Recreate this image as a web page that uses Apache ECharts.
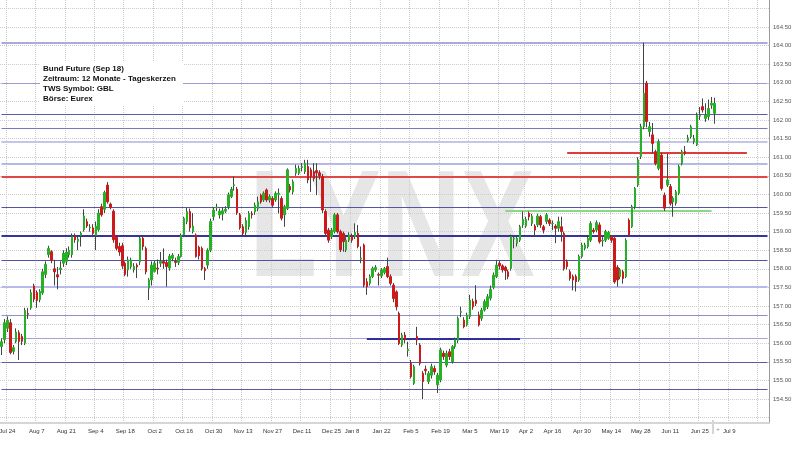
<!DOCTYPE html>
<html>
<head>
<meta charset="utf-8">
<script src="https://cdn.jsdelivr.net/npm/echarts@6/dist/echarts.min.js"></script>
<style>
  html, body { margin: 0; padding: 0; background: #fff; }
  #main { width: 800px; height: 450px; }
</style>
</head>
<body>
<div id="main"></div>
<script>
// Handelstage: Wochenenden und Eurex-Feiertage fallen raus
var firstDay = '2017-07-20'
var lastDay = '2018-07-26'
var holidays = ['2017-12-25', '2017-12-26', '2018-01-01', '2018-03-30', '2018-04-02']

// Tageskerzen Bund Future: [open, close, low, high]
var candles = [
  [155.91, 156.04, 155.68, 156.13], [156.10, 156.55, 156.00, 156.65], [156.40, 156.62, 156.30, 156.72],
  [156.55, 155.75, 155.70, 156.65], [155.78, 155.88, 155.70, 155.95], [156.05, 156.30, 156.00, 156.40],
  [156.28, 156.05, 155.55, 156.35], [156.18, 156.05, 155.95, 156.25], [156.00, 156.88, 155.95, 156.95],
  [156.80, 156.78, 156.65, 156.95], [156.95, 157.36, 156.90, 157.45], [157.54, 157.18, 157.10, 157.60],
  [157.36, 157.15, 156.95, 157.42], [157.17, 157.39, 157.10, 157.45], [157.35, 157.92, 157.30, 158.00],
  [157.85, 158.12, 157.75, 158.20], [158.38, 158.55, 158.30, 158.62], [158.46, 158.22, 158.15, 158.50],
  [158.00, 157.92, 157.55, 158.24], [157.84, 157.78, 157.45, 158.05], [157.98, 158.02, 157.85, 158.20],
  [158.15, 158.42, 158.05, 158.50], [158.20, 158.45, 158.10, 158.55], [158.38, 158.50, 158.30, 158.60],
  [158.38, 158.86, 158.30, 158.95], [158.88, 158.78, 158.70, 158.95], [158.74, 158.80, 158.50, 158.88],
  [158.90, 158.96, 158.60, 159.00], [159.05, 159.42, 159.00, 159.60], [159.27, 159.15, 159.10, 159.35],
  [159.10, 159.12, 159.00, 159.20], [159.10, 158.95, 158.85, 159.20], [158.90, 159.15, 158.50, 159.27],
  [159.05, 159.50, 159.00, 159.60], [159.67, 159.45, 159.40, 159.75], [159.60, 160.05, 159.50, 160.10],
  [160.25, 159.80, 159.75, 160.33], [159.74, 159.65, 159.60, 159.78], [159.55, 158.78, 158.70, 159.60],
  [158.85, 158.55, 158.50, 158.90], [158.60, 158.45, 158.35, 158.70], [158.62, 158.08, 158.00, 158.70],
  [158.15, 157.85, 157.80, 158.20], [157.97, 158.24, 157.79, 158.33], [158.06, 158.24, 158.00, 158.30],
  [157.97, 158.06, 157.90, 158.15], [158.10, 158.05, 157.75, 158.15], [158.19, 158.82, 158.10, 158.90],
  [158.82, 158.60, 158.50, 158.88], [158.55, 157.92, 157.85, 158.60], [157.48, 157.70, 157.16, 157.75],
  [157.70, 158.10, 157.55, 158.20], [157.93, 158.15, 157.90, 158.22], [158.02, 158.00, 157.85, 158.25],
  [158.15, 158.20, 158.05, 158.45], [158.20, 158.15, 158.00, 158.55], [158.17, 158.06, 157.52, 158.25],
  [158.02, 158.34, 157.95, 158.40], [158.28, 158.37, 158.20, 158.42], [158.20, 158.17, 158.05, 158.30],
  [158.17, 158.33, 158.10, 158.40], [158.33, 158.90, 158.30, 158.95], [158.91, 159.36, 158.85, 159.40],
  [159.27, 159.54, 159.20, 159.65], [159.54, 159.10, 159.00, 159.62], [159.00, 159.15, 158.95, 159.50],
  [158.91, 158.33, 158.30, 158.95], [158.58, 158.35, 158.25, 158.62], [158.55, 158.01, 157.95, 158.60],
  [158.00, 157.95, 157.70, 158.05], [158.10, 158.50, 158.00, 158.55], [158.50, 159.27, 158.45, 159.35],
  [159.40, 159.58, 159.30, 159.65], [159.64, 159.66, 159.55, 159.75], [159.45, 159.55, 159.35, 159.62],
  [159.47, 159.56, 159.30, 159.65], [159.55, 159.60, 159.50, 159.68], [159.67, 159.99, 159.60, 160.05],
  [159.94, 160.14, 159.90, 160.20], [160.24, 160.26, 160.10, 160.48], [160.14, 159.50, 159.45, 160.20],
  [159.45, 159.10, 159.05, 159.50], [159.13, 158.95, 158.90, 159.20], [158.98, 159.30, 158.90, 159.38],
  [159.13, 159.49, 159.05, 159.55], [159.48, 159.45, 159.35, 159.55], [159.53, 159.71, 159.45, 159.78],
  [159.62, 159.80, 159.55, 159.94], [159.98, 159.80, 159.75, 160.02], [159.85, 160.03, 159.80, 160.08],
  [160.12, 159.85, 159.80, 160.16], [159.85, 159.94, 159.78, 160.00], [159.89, 159.71, 159.65, 159.95],
  [159.85, 160.03, 159.80, 160.08], [160.00, 160.03, 159.49, 160.16], [159.89, 159.36, 159.30, 159.95],
  [159.45, 159.67, 159.13, 159.72], [159.62, 160.66, 159.58, 160.70], [160.21, 160.12, 160.05, 160.28],
  [160.07, 160.34, 160.00, 160.40], [160.57, 160.70, 160.50, 160.80], [160.57, 160.70, 160.52, 160.78],
  [160.72, 160.75, 160.62, 160.84], [160.61, 160.84, 160.55, 160.93], [160.75, 160.39, 160.30, 160.93],
  [160.66, 160.48, 160.07, 160.72], [160.61, 160.43, 160.35, 160.84], [160.64, 160.58, 159.98, 160.84],
  [160.58, 160.50, 160.40, 160.65], [160.48, 159.58, 159.50, 160.55], [159.54, 158.95, 158.90, 159.60],
  [159.04, 158.77, 158.70, 159.10], [158.86, 159.04, 158.80, 159.10], [159.00, 159.45, 158.95, 159.50],
  [159.45, 159.00, 158.95, 159.50], [159.00, 158.51, 158.45, 159.05], [158.95, 158.73, 158.46, 159.00],
  [158.51, 158.77, 158.45, 158.85], [158.77, 158.91, 158.72, 158.98], [158.88, 158.77, 158.70, 158.95],
  [158.86, 158.98, 158.80, 159.22], [158.95, 158.60, 158.55, 159.18], [158.26, 158.29, 158.15, 158.60],
  [158.64, 157.56, 157.50, 158.68], [157.65, 157.52, 157.30, 157.75], [157.61, 157.79, 157.55, 157.85],
  [157.79, 158.01, 157.75, 158.06], [157.97, 158.04, 157.92, 158.10], [157.85, 157.83, 157.55, 157.90],
  [157.81, 157.97, 157.75, 158.02], [157.90, 158.01, 157.85, 158.05], [158.06, 157.79, 157.75, 158.30],
  [157.79, 157.61, 157.55, 157.85], [157.56, 157.20, 157.10, 157.62], [157.38, 156.98, 156.88, 157.42],
  [156.80, 155.99, 155.95, 156.85], [155.95, 156.22, 155.90, 156.28], [156.22, 156.09, 156.00, 156.30],
  [155.80, 155.84, 155.64, 156.04], [155.46, 155.10, 155.05, 155.55], [154.92, 155.37, 154.88, 155.42],
  [156.18, 156.09, 155.95, 156.44], [155.95, 155.46, 155.40, 156.00], [155.19, 154.97, 154.50, 155.25],
  [155.30, 155.26, 155.15, 155.40], [154.97, 155.19, 154.90, 155.25], [155.14, 155.37, 155.05, 155.45],
  [155.32, 155.23, 155.15, 155.40], [154.88, 155.14, 154.66, 155.20], [155.01, 155.82, 154.95, 155.88],
  [155.73, 155.64, 155.55, 155.80], [155.41, 155.73, 155.35, 155.80], [155.77, 155.64, 155.55, 155.85],
  [155.50, 155.91, 155.45, 155.95], [155.91, 156.09, 155.85, 156.15], [156.08, 156.67, 156.00, 156.72],
  [156.83, 156.85, 156.70, 156.98], [156.62, 156.44, 156.40, 156.70], [156.49, 156.76, 156.45, 156.82],
  [156.71, 157.16, 156.65, 157.30], [157.12, 156.98, 156.90, 157.20], [157.16, 157.07, 157.00, 157.56],
  [156.76, 156.49, 156.45, 156.85], [156.67, 156.89, 156.60, 156.95], [156.89, 157.12, 156.85, 157.18],
  [156.98, 157.25, 156.92, 157.32], [157.21, 157.45, 157.15, 157.55], [157.50, 157.83, 157.45, 157.90],
  [157.79, 158.10, 157.75, 158.24], [158.15, 158.08, 157.98, 158.22], [158.08, 157.97, 157.90, 158.12],
  [158.04, 157.95, 157.70, 158.08], [157.92, 157.79, 157.72, 157.98], [158.01, 158.86, 157.95, 158.92],
  [158.80, 158.82, 158.55, 158.88], [158.69, 158.82, 158.60, 158.88], [158.77, 159.13, 158.72, 159.18],
  [159.18, 159.33, 159.10, 159.54], [159.15, 159.33, 159.10, 159.40], [159.49, 159.40, 159.30, 159.54],
  [159.22, 159.42, 159.15, 159.48], [159.15, 159.04, 158.86, 159.20], [159.18, 159.42, 159.12, 159.48],
  [159.40, 159.18, 159.10, 159.45], [159.13, 159.04, 158.95, 159.18], [159.27, 159.45, 159.20, 159.50],
  [159.31, 159.22, 159.15, 159.36], [159.22, 159.22, 159.04, 159.30], [159.15, 159.09, 158.69, 159.20],
  [159.09, 159.27, 159.00, 159.40], [159.13, 159.00, 158.73, 159.40], [158.95, 158.01, 157.95, 159.00],
  [158.19, 158.06, 157.98, 158.25], [157.92, 157.74, 157.68, 157.98], [157.79, 157.70, 157.42, 157.85],
  [157.79, 157.65, 157.39, 157.85], [157.70, 158.33, 157.65, 158.38], [158.33, 158.64, 158.28, 158.70],
  [158.55, 158.64, 158.50, 158.70], [158.60, 158.82, 158.55, 158.88], [158.77, 159.22, 158.72, 159.28],
  [159.04, 159.00, 158.95, 159.10], [159.04, 159.24, 158.98, 159.30], [159.18, 158.73, 158.68, 159.25],
  [158.75, 158.77, 158.60, 158.85], [158.77, 159.00, 158.72, 159.05], [158.82, 158.98, 158.78, 159.02],
  [158.86, 158.77, 158.70, 158.90], [158.82, 157.65, 157.60, 158.86], [158.04, 157.70, 157.52, 158.10],
  [157.79, 157.97, 157.72, 158.02], [157.92, 157.74, 157.60, 157.97], [157.79, 158.77, 157.75, 158.82],
  [159.31, 158.91, 158.86, 159.36], [159.13, 159.67, 159.10, 159.72], [159.67, 160.16, 159.60, 160.20],
  [160.25, 160.93, 160.20, 161.00], [161.02, 161.82, 160.95, 161.90], [161.82, 162.72, 161.75, 164.08],
  [162.99, 161.96, 161.80, 163.05], [161.69, 161.82, 161.55, 161.95], [161.60, 161.37, 161.10, 161.92],
  [161.15, 160.83, 160.78, 161.20], [160.70, 161.42, 160.65, 161.48], [161.06, 160.16, 160.10, 161.12],
  [159.98, 159.63, 159.55, 160.05], [160.25, 160.39, 160.20, 161.10], [160.21, 159.76, 159.70, 160.28],
  [159.80, 159.90, 159.40, 159.95], [159.76, 160.07, 159.70, 160.12], [160.03, 160.75, 159.98, 160.80],
  [160.83, 161.15, 160.78, 161.20], [161.15, 161.10, 161.05, 161.30], [161.45, 161.52, 161.40, 161.60],
  [161.55, 161.82, 161.50, 161.87], [161.42, 161.51, 161.35, 161.60], [161.33, 162.13, 161.30, 162.20],
  [162.10, 162.13, 162.00, 162.35], [162.36, 162.27, 162.20, 162.58], [162.04, 162.13, 161.95, 162.45],
  [162.09, 162.31, 162.00, 162.55], [162.40, 162.45, 162.30, 162.62], [162.18, 162.45, 161.90, 162.60]
]

// Achse unten: Datum der Gitterlinie und Beschriftung
var tickDates = ['2017-07-24', '2017-08-07', '2017-08-21', '2017-09-04', '2017-09-18', '2017-10-02',
  '2017-10-16', '2017-10-30', '2017-11-13', '2017-11-27', '2017-12-11', '2017-12-27', '2018-01-08',
  '2018-01-22', '2018-02-05', '2018-02-19', '2018-03-05', '2018-03-19', '2018-04-03', '2018-04-16',
  '2018-04-30', '2018-05-14', '2018-05-28', '2018-06-11', '2018-06-25', '2018-07-09', '2018-07-23']
var tickLabels = ['Jul 24', 'Aug 7', 'Aug 21', 'Sep 4', 'Sep 18', 'Oct 2', 'Oct 16', 'Oct 30', 'Nov 13',
  'Nov 27', 'Dec 11', 'Dec 25', 'Jan 8', 'Jan 22', 'Feb 5', 'Feb 19', 'Mar 5', 'Mar 19', 'Apr 2',
  'Apr 16', 'Apr 30', 'May 14', 'May 28', 'Jun 11', 'Jun 25', 'Jul 9', '']

// Achse rechts
var priceTicks = [154, 154.5, 155, 155.5, 156, 156.5, 157, 157.5, 158, 158.5, 159, 159.5, 160,
  160.5, 161, 161.5, 162, 162.5, 163, 163.5, 164, 164.5, 165]
var priceLabels = [154.5, 155, 155.5, 156, 156.5, 157, 157.5, 158, 158.5, 159, 159.5, 160,
  160.5, 161, 161.5, 162, 162.5, 163, 163.5, 164, 164.5]

// eingezeichnete Linien (Kursniveaus)
var levels = [164.09, 162.99, 162.15, 161.79, 161.42, 160.82, 160.48, 159.65, 158.88, 158.24,
  157.52, 156.76, 156.13, 155.49, 154.76]
var redSegment = { from: '2018-04-23', to: '2018-07-17', value: 161.13 }
var greenSegment = { from: '2018-03-21', to: '2018-06-29', value: 159.55 }
var blueSegment = { from: '2018-01-15', to: '2018-03-28', value: 156.13 }

var infoLines = ['Bund Future (Sep 18)', 'Zeitraum: 12 Monate - Tageskerzen', 'TWS Symbol: GBL', 'Börse: Eurex']

// Kategorien bauen
function buildDays() {
  var out = []
  var d = new Date(firstDay + 'T00:00:00Z')
  var end = new Date(lastDay + 'T00:00:00Z')
  while (d <= end) {
    var s = d.toISOString().slice(0, 10)
    var wd = d.getUTCDay()
    if (wd !== 0 && wd !== 6 && holidays.indexOf(s) < 0) out.push(s)
    d.setUTCDate(d.getUTCDate() + 1)
  }
  return out
}
var days = buildDays()

// Farben / Stil der Linien
var levelStyle = [
  ['#aaaade', 2], ['#9a9ad6', 1], ['#5b5bab', 1], ['#7777bb', 1], ['#c5c5ea', 2], ['#b8b8e6', 2],
  ['#e04848', 2], ['#5555a8', 1], ['#34349a', 2], ['#5050a5', 1], ['#b8b8ea', 2], ['#8e8ecb', 1],
  ['#a4a4da', 1], ['#5a5aa8', 1], ['#5a5aa8', 1]
]

function isTick(index) {
  return tickDates.indexOf(days[index]) >= 0
}

let myChart = echarts.init(document.getElementById('main'))

// waagerechte Linien ueber die ganze Breite
var levelLines = levels.map(function (v, i) {
  return [
    { coord: [0, v], lineStyle: { color: levelStyle[i][0], width: levelStyle[i][1], type: 'solid' } },
    { coord: [days.length - 1, v] }
  ]
})
function segment(seg, color, width) {
  return [
    { coord: [seg.from, seg.value], lineStyle: { color: color, width: width, type: 'solid' } },
    { coord: [seg.to, seg.value] }
  ]
}
levelLines.push(segment(blueSegment, '#2e2e9e', 2))
levelLines.push(segment(greenSegment, '#88d888', 2))
levelLines.push(segment(redSegment, '#e03c3c', 2))

// nur die Kerzenkoerper (ohne Dochte)
var bodies = candles.map(function (c) {
  return [c[0], c[1], Math.min(c[0], c[1]), Math.max(c[0], c[1])]
})

let option = {
  animation: false,
  backgroundColor: '#fff',
  grid: { left: 0, right: 31, top: 0, bottom: 27, outerBoundsMode: 'none', containLabel: false },
  xAxis: {
    type: 'category',
    data: days,
    boundaryGap: true,
    axisLine: { lineStyle: { color: '#d6d6d6', width: 2 } },
    axisTick: { show: false },
    axisLabel: {
      interval: function (index) { return isTick(index) },
      formatter: function (value) { return tickLabels[tickDates.indexOf(value)] },
      fontSize: 6,
      fontFamily: 'Liberation Sans',
      color: '#333',
      margin: 5
    },
    splitLine: {
      show: true,
      interval: function (index) { return isTick(index) },
      lineStyle: { color: '#cccccc', type: 'dotted', width: 1 }
    }
  },
  yAxis: {
    type: 'value',
    position: 'right',
    min: 153.855,
    max: 165.226,
    scale: true,
    axisLine: { show: true, lineStyle: { color: '#9a9a9a' } },
    axisTick: { show: false, customValues: priceTicks },
    axisLabel: {
      customValues: priceLabels,
      formatter: function (v) { return v.toFixed(2) },
      fontSize: 6,
      fontFamily: 'Liberation Sans',
      color: '#555',
      margin: 4
    },
    splitLine: { show: true, lineStyle: { color: '#cccccc', type: 'dotted', width: 1 } }
  },
  series: [
    {
      // Linien unter den Kerzen
      type: 'line',
      data: [],
      markLine: {
        z: 1,
        silent: true,
        symbol: 'none',
        label: { show: false },
        data: levelLines
      }
    },
    {
      // Dochte
      type: 'candlestick',
      data: candles,
      barWidth: 1,
      z: 3,
      itemStyle: { color: '#444', color0: '#444', borderColor: '#444', borderColor0: '#444', borderWidth: 1 }
    },
    {
      // Koerper
      type: 'candlestick',
      data: bodies,
      barWidth: 2,
      z: 4,
      itemStyle: { color: '#26b026', color0: '#cc1a1a', borderColor: '#26b026', borderColor0: '#cc1a1a', borderWidth: 1 }
    }
  ]
}

myChart.setOption(option)

// Trenner hinter der letzten Kerze in der Datumsleiste
var lastIdx = candles.length - 1
var sepX = (myChart.convertToPixel({ xAxisIndex: 0 }, days[lastIdx - 1]) +
  myChart.convertToPixel({ xAxisIndex: 0 }, days[lastIdx])) / 2
var axisY = myChart.convertToPixel({ yAxisIndex: 0 }, 153.855)

myChart.setOption({
  graphic: [
    {
      type: 'text', x: 392, y: 234, scaleX: 0.73, z: -10, silent: true,
      style: { text: 'LYNX', font: 'bold 152px "Liberation Sans"', fill: '#e6e6e6', align: 'center', verticalAlign: 'middle' }
    },
    {
      type: 'rect', x: 40, y: 62, z: 50, silent: true,
      shape: { width: 143, height: 43 }, style: { fill: '#fff' }
    },
    {
      type: 'text', x: 43, y: 64, z: 51, silent: true,
      style: { text: infoLines.join('\n'), font: 'bold 8px "Liberation Sans"', fill: '#111', lineHeight: 9.8 }
    },
    {
      type: 'line', silent: true,
      shape: { x1: sepX, y1: axisY - 3, x2: sepX, y2: axisY + 11 },
      style: { stroke: '#aaaaaa', lineWidth: 1 }
    },
    {
      type: 'text', x: sepX + 5, y: axisY + 6, silent: true,
      style: { text: '+', font: '6px "Liberation Sans"', fill: '#888', align: 'center', verticalAlign: 'middle' }
    }
  ]
})
</script>
</body>
</html>
